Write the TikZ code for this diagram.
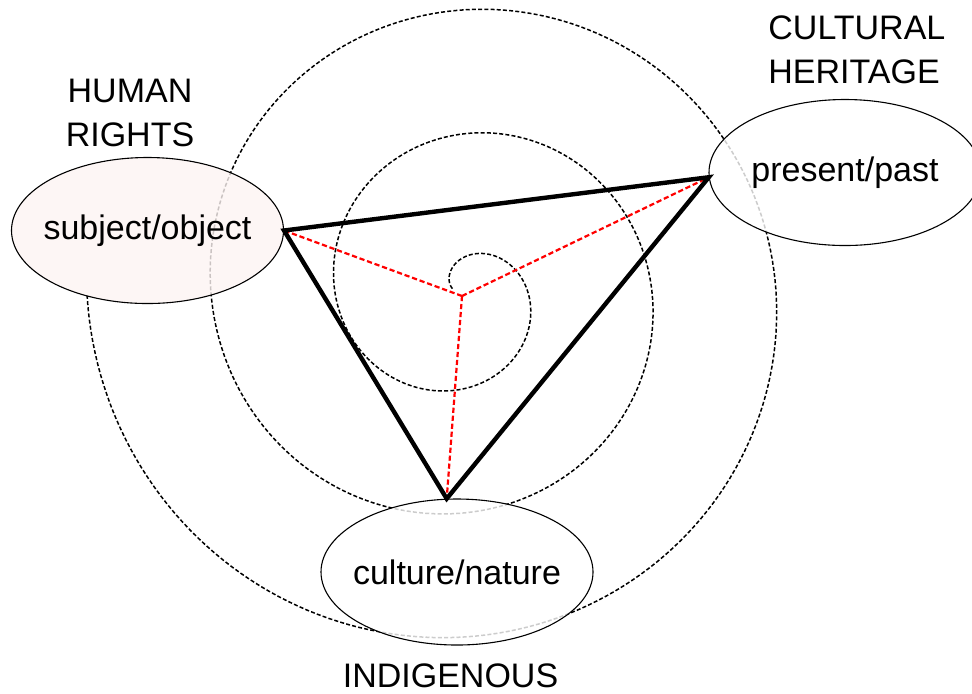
\documentclass[tikz,border=0pt]{standalone}
\usepackage{fontspec}
\setmainfont{Liberation Sans}
\usetikzlibrary{shapes.geometric}
\definecolor{pinkfill}{HTML}{FDF4F3}
\begin{document}
\begin{tikzpicture}[x=0.5pt,y=-0.5pt,
  spiralline/.style={line width=0.75pt, dash pattern=on 2pt off 1.1pt},
  ovalbox/.style={ellipse, draw, line width=0.55pt, minimum width=136pt, minimum height=73pt,
    inner sep=0pt, fill opacity=0.8, draw opacity=1, text opacity=1, font=\fontsize{17}{20}\selectfont},
  headtxt/.style={font=\fontsize{17}{22}\selectfont, inner sep=0pt},
  triline/.style={line width=2.2pt, line join=miter},
  spokeline/.style={red, line width=1.1pt, dash pattern=on 2.6pt off 1.4pt}]
\useasboundingbox (0,0) rectangle (972,693);
% spiral
\draw[spiralline] plot[domain=0.37:18.85, samples=600, variable=\t]
  ({462.5-(3.5+19.74*\t)*cos(\t r)},{292.5-(3.5+19.74*\t)*sin(\t r)});
% ellipses
\node[ovalbox, fill=pinkfill] (so) at (147.5,230.5) {\makebox[0pt]{subject/object}};
\node[ovalbox, fill=white] (pp) at (845,172.5) {\makebox[0pt]{present/past}};
\node[ovalbox, fill=white] (cn) at (457,572) {\makebox[0pt]{culture/nature}};
% headings
\node[headtxt, align=center] (hr) at (130,112.5) {HUMAN\\RIGHTS};
\node[headtxt, align=left, anchor=west] (ch) at (768,49.5) {CULTURAL\\HERITAGE};
\node[headtxt] (ind) at (450.5,676) {INDIGENOUS};
% triangle and spokes
\coordinate (ctr) at (462,296);
\coordinate (A) at (so.east);
\coordinate (B) at (pp.182);
\coordinate (C) at (cn.98);
\draw[spokeline] (ctr) -- (A);
\draw[spokeline] (ctr) -- (B);
\draw[spokeline] (ctr) -- (C);
\draw[triline] (A) -- (B) -- (C) -- cycle;
\end{tikzpicture}
\end{document}
